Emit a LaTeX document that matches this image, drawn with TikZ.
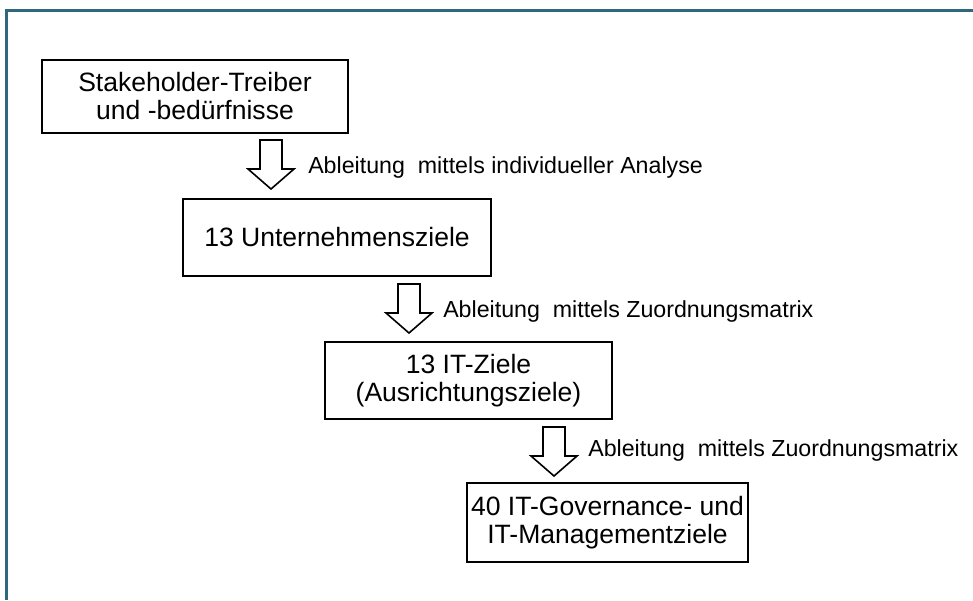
\documentclass[tikz,border=0pt]{standalone}
\usepackage{fontspec}
\setmainfont{Liberation Sans}
\definecolor{framecol}{RGB}{46,104,124}
\tikzset{
  goalbox/.style={draw=black, line width=1.5pt, fill=white, align=center,
    inner sep=0pt, font=\fontsize{19.9}{21}\selectfont},
  derivelabel/.style={anchor=base west, inner sep=0pt,
    font=\fontsize{17.4}{20}\selectfont},
  blockarrow/.style={draw=black, line width=1.2pt, fill=white, line join=miter}
}
% hollow block arrow pointing down, top centre at #1
\newcommand{\downblock}[1]{%
  \draw[blockarrow] (#1) +(-11,0) -- +(11,0) -- +(11,29) -- +(23,29)
    -- +(0,49) -- +(-23,29) -- +(-11,29) -- cycle;}
\begin{document}
\begin{tikzpicture}[x=0.75pt, y=-0.75pt]
  \useasboundingbox (0,0) rectangle (973,600);
  % outer frame (top and left edge)
  \draw[framecol, line width=1.6pt] (6.5,600) -- (6.5,10.5) -- (973,10.5);

  % goal cascade
  \node[goalbox, minimum width=306*0.75pt, minimum height=73*0.75pt]
    (stake) at (195,96.5) {Stakeholder-Treiber\\und -bedürfnisse};
  \node[goalbox, minimum width=308*0.75pt, minimum height=77*0.75pt]
    (ent) at (337,237.5) {13 Unternehmensziele};
  \node[goalbox, minimum width=287*0.75pt, minimum height=77*0.75pt]
    (itg) at (468.5,380.5) {13 IT-Ziele\\(Ausrichtungsziele)};
  \node[goalbox, minimum width=281*0.75pt, minimum height=79*0.75pt]
    (gmo) at (607.5,522.5) {40 IT-Governance- und\\IT-Managementziele};

  % derivation arrows between the levels
  \coordinate (a1) at (271,140);
  \coordinate (a2) at (409,284);
  \coordinate (a3) at (554,427);
  \downblock{a1}
  \downblock{a2}
  \downblock{a3}

  \node[derivelabel] (l1) at (308,173) {Ableitung\ \ mittels individueller Analyse};
  \node[derivelabel] (l2) at (443,317) {Ableitung\ \ mittels Zuordnungsmatrix};
  \node[derivelabel] (l3) at (588,456) {Ableitung\ \ mittels Zuordnungsmatrix};
\end{tikzpicture}
\end{document}
